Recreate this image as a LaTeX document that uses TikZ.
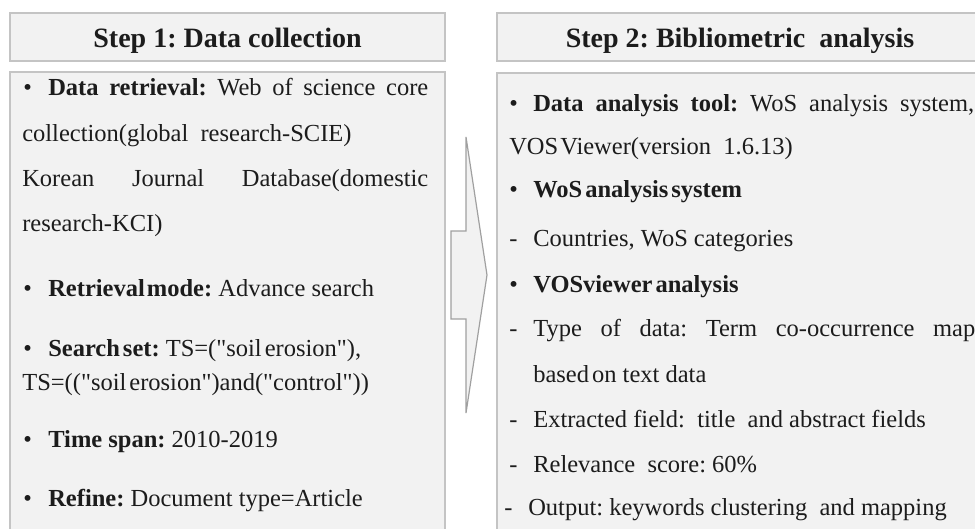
\documentclass[tikz,border=0pt]{standalone}
\usepackage{fontspec}
\setmainfont{Liberation Serif}
\newfontfamily\qfont{Liberation Serif} % no TeX mapping, keeps " straight
\usepackage{tikz}
\usetikzlibrary{positioning}

\definecolor{boxfill}{RGB}{242,242,242}
\definecolor{boxline}{RGB}{196,196,196}
\definecolor{arrowline}{RGB}{160,160,160}
\definecolor{txt}{RGB}{28,28,28}

\newcommand{\bul}[1][25pt]{\makebox[#1][l]{\textbullet}}
\newcommand{\dsh}[1][24pt]{\makebox[#1][l]{-}}
\newcommand{\qq}{{\qfont"}} % straight double quote
\frenchspacing

\begin{document}
\begin{tikzpicture}[
    x = 1pt, y = 1pt, % one unit = one pixel of the figure
    line join = miter,
    semithick
    ]

    \tikzset{
    hdrbox/.style = {draw = boxline, line width = 1.5pt, fill = boxfill,
        minimum height = 48pt, inner sep = 0pt},
    bodybox/.style = {draw = boxline, line width = 1.5pt, fill = boxfill,
        inner sep = 0pt},
    hdrtext/.style = {anchor = base, inner sep = 0pt, text = txt,
        font = \fontsize{28}{30}\selectfont\bfseries},
    txtline/.style = {anchor = base west, inner sep = 0pt, text = txt,
        font = \fontsize{24.5}{28}\selectfont}
    }

    \useasboundingbox (0,0) rectangle (975,528);
    \clip (0,0) rectangle (975,528);

    % frames
    \node[hdrbox, minimum width = 435pt] (hdr1) at (227.5,491) {};
    \node[bodybox, minimum width = 435pt, minimum height = 470pt] (body1) at (227.5,221) {};
    \node[hdrbox, minimum width = 486pt] (hdr2) at (740,491) {};
    \node[bodybox, minimum width = 493pt, minimum height = 470pt] (body2) at (743.5,220) {};

    % block arrow between the steps
    \draw[arrowline, line width = 1.2pt, fill = boxfill]
        (451,297) -- (466,297) -- (466,391) -- (487,253) -- (466,115)
        -- (466,209) -- (451,209) -- cycle;

    % headers
    \node[hdrtext] (title1) at (227.5,480) {Step 1: Data collection};
    \node[hdrtext] (title2) at (740,480) {Step 2: Bibliometric~ analysis};

    % step 1
    \node[txtline] (a1) at (23,432) {\makebox[405pt][s]{\bul\textbf{Data retrieval:} Web of science core}};
    \node[txtline] (a2) at (22,386) {collection(global\ \ research-SCIE)};
    \node[txtline] (a3) at (22,341) {\makebox[406pt][s]{Korean Journal Database(domestic}};
    \node[txtline] (a4) at (22,296) {research-KCI)};
    \node[txtline] (a5) at (23,231) {\bul\textbf{Retrieval\hspace{2pt}mode:} Advance search};
    \node[txtline] (a6) at (23,171) {\bul\textbf{Search\hspace{3pt}set:} TS=(\qq soil\hspace{3pt}erosion\qq),};
    \node[txtline] (a7) at (22,137) {TS=((\qq soil\hspace{3pt}erosion\qq)and(\qq control\qq))};
    \node[txtline] (a8) at (23,81) {\bul\textbf{Time span:} 2010-2019};
    \node[txtline] (a9) at (23,22) {\bul\textbf{Refine:} Document type=Article};

    % step 2
    \node[txtline] (b1) at (509,416) {\makebox[465pt][s]{\bul[24pt]\textbf{Data analysis tool:} WoS analysis system,}};
    \node[txtline] (b2) at (509,373) {VOS\hspace{2pt}Viewer(version\ \ 1.6.13)};
    \node[txtline] (b3) at (509,330) {\bul[24pt]\textbf{WoS\hspace{3pt}analysis\hspace{3pt}system}};
    \node[txtline] (b4) at (509,281) {\dsh Countries, WoS categories};
    \node[txtline] (b5) at (509,235) {\bul[24pt]\textbf{VOSviewer\hspace{3pt}analysis}};
    \node[txtline] (b6) at (509,191) {\makebox[466pt][s]{\dsh Type of data: Term co-occurrence map}};
    \node[txtline] (b7) at (533,146) {based\hspace{3pt}on text data};
    \node[txtline] (b8) at (509,101) {\dsh Extracted field:\ \ title\ \ and abstract fields};
    \node[txtline] (b9) at (509,56) {\dsh Relevance\ \ score: 60\%};
    \node[txtline] (b10) at (504,13) {\dsh Output: keywords clustering\ \ and mapping};
\end{tikzpicture}
\end{document}
